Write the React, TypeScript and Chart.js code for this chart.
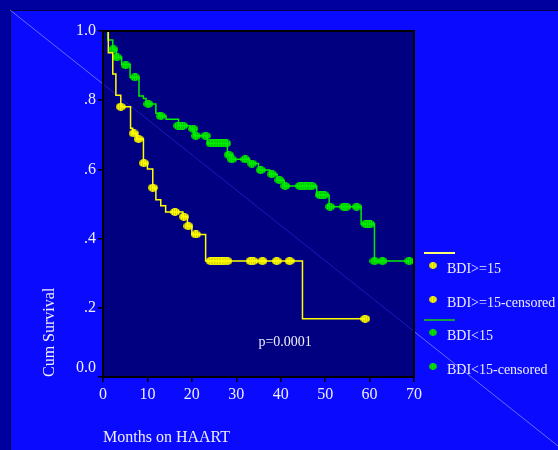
import React, { useEffect, useRef } from 'react';
import { Chart, registerables } from 'chart.js';

Chart.register(...registerables);

// ---- data ----
const yTickLabels = ['0.0', '.2', '.4', '.6', '.8', '1.0'];

// BDI>=15 Kaplan-Meier step curve (months, cumulative survival)
const highMonths = [0, 1.2, 2.2, 2.9, 4.0, 6.2, 6.7, 7.6, 9.1, 10.0, 11.2, 11.9, 13.0, 14.1, 18.0, 19.0, 20.0, 23.1, 44.9, 59.0];
const highSurvival = [1.0, 0.937, 0.876, 0.814, 0.781, 0.719, 0.704, 0.688, 0.618, 0.601, 0.547, 0.512, 0.495, 0.477, 0.463, 0.436, 0.412, 0.335, 0.168, 0.168];

// BDI>=15 censored observations
const highCensMonths = [4.0, 6.9, 8.0, 9.2, 11.2, 16.2, 18.2, 19.2, 20.9, 24.2, 24.8, 25.4, 26.0, 26.6, 27.2, 28.0, 33.2, 33.8, 35.9, 39.1, 42.0, 59.0];
const highCensSurvival = [0.781, 0.704, 0.688, 0.618, 0.547, 0.477, 0.463, 0.436, 0.412, 0.335, 0.335, 0.335, 0.335, 0.335, 0.335, 0.335, 0.335, 0.335, 0.335, 0.335, 0.335, 0.168];

// BDI<15 Kaplan-Meier step curve
const lowMonths = [0, 1.1, 2.2, 3.0, 4.2, 6.1, 8.1, 9.1, 9.7, 11.9, 12.8, 14.2, 17.0, 19.6, 20.5, 23.5, 28.0, 28.9, 33.0, 35.0, 37.5, 39.2, 40.8, 48.1, 50.9, 58.1, 61.1, 68.9];
const lowSurvival = [1.0, 0.974, 0.947, 0.924, 0.903, 0.866, 0.812, 0.805, 0.789, 0.762, 0.754, 0.745, 0.726, 0.717, 0.697, 0.675, 0.642, 0.629, 0.617, 0.598, 0.586, 0.569, 0.552, 0.526, 0.492, 0.442, 0.335, 0.335];

// BDI<15 censored observations
const lowCensMonths = [2.3, 3.1, 5.1, 7.2, 10.2, 13.0, 16.9, 17.4, 18.0, 20.3, 20.9, 23.1, 24.2, 24.8, 25.4, 26.0, 26.6, 27.1, 27.7, 28.3, 29.0, 32.0, 33.5, 35.5, 38.0, 39.7, 41.0, 44.3, 44.9, 45.5, 46.3, 47.0, 48.8, 49.3, 49.8, 51.1, 54.2, 54.8, 57.1, 59.1, 59.6, 60.1, 61.1, 62.9, 68.9];
const lowCensSurvival = [0.947, 0.924, 0.901, 0.866, 0.789, 0.754, 0.726, 0.726, 0.726, 0.717, 0.697, 0.697, 0.675, 0.675, 0.675, 0.675, 0.675, 0.675, 0.675, 0.642, 0.629, 0.629, 0.617, 0.598, 0.586, 0.569, 0.552, 0.552, 0.552, 0.552, 0.552, 0.552, 0.526, 0.526, 0.526, 0.492, 0.492, 0.492, 0.492, 0.442, 0.442, 0.442, 0.335, 0.335, 0.335];

const legendLabels = ['BDI>=15', 'BDI>=15-censored', 'BDI<15', 'BDI<15-censored'];
const pValueText = 'p=0.0001';
const xTitle = 'Months on HAART';
const yTitle = 'Cum Survival';

const SERIF = "'Liberation Serif', 'Times New Roman', serif";
const TEXT = '#eeeeff';
const YELLOW = '#ffff00';
const GREEN = '#00ee00';

const zip = (xs: number[], ys: number[]) => xs.map((x, i) => ({ x, y: ys[i] }));

function makeMarker(fill: string, stripe: string): HTMLCanvasElement {
  const c = document.createElement('canvas');
  c.width = 10;
  c.height = 8;
  const g = c.getContext('2d')!;
  g.beginPath();
  g.ellipse(5, 4, 4.9, 3.9, 0, 0, Math.PI * 2);
  g.fillStyle = fill;
  g.fill();
  g.save();
  g.clip();
  g.fillStyle = stripe;
  for (let x = 1; x < 10; x += 2) g.fillRect(x, 1, 1, 6);
  g.restore();
  return c;
}

const backgroundPlugin = {
  id: 'slideBackground',
  beforeDraw(chart: any) {
    const { ctx, width, height, chartArea } = chart;
    const { left, top, right, bottom } = chartArea;
    ctx.save();
    ctx.fillStyle = '#00009e';
    ctx.fillRect(0, 0, width, height);
    ctx.fillStyle = '#0a0aff';
    ctx.fillRect(10, 10, width - 10, height - 10);
    ctx.strokeStyle = '#000050';
    ctx.lineWidth = 1;
    ctx.beginPath();
    ctx.moveTo(10.5, height);
    ctx.lineTo(10.5, 10.5);
    ctx.lineTo(width, 10.5);
    ctx.stroke();
    // decorative diagonal
    ctx.strokeStyle = 'rgba(170,170,255,0.6)';
    ctx.beginPath();
    ctx.moveTo(10, 10);
    ctx.lineTo(563, 450);
    ctx.stroke();
    // plot area
    ctx.fillStyle = '#000080';
    ctx.fillRect(left, top, right - left, bottom - top);
    ctx.beginPath();
    ctx.rect(left, top, right - left, bottom - top);
    ctx.clip();
    ctx.strokeStyle = 'rgba(60,60,255,0.45)';
    ctx.beginPath();
    ctx.moveTo(10, 10);
    ctx.lineTo(563, 450);
    ctx.stroke();
    ctx.restore();
  },
  afterDraw(chart: any) {
    const { ctx, chartArea, scales } = chart;
    const { left, top, right, bottom } = chartArea;
    ctx.save();
    // plot frame
    ctx.strokeStyle = '#000000';
    ctx.lineWidth = 2;
    ctx.strokeRect(left, top, right - left, bottom - top);

    // p-value
    ctx.fillStyle = TEXT;
    ctx.font = `14px ${SERIF}`;
    ctx.textAlign = 'center';
    ctx.textBaseline = 'middle';
    ctx.fillText(pValueText, scales.x.getPixelForValue(41), scales.y.getPixelForValue(0.1));

    // legend
    const lx = right + 10;
    const markers = chart.$kmMarkers;
    const mk = [markers[0], markers[0], markers[1], markers[1]];
    const lineCols = ['#ffff70', '#10a040'];
    const rowY = [268, 302, 335, 369];
    const lineY = [253, 320];
    ctx.lineWidth = 2;
    for (let g = 0; g < 2; g++) {
      ctx.strokeStyle = lineCols[g];
      ctx.beginPath();
      ctx.moveTo(lx, lineY[g]);
      ctx.lineTo(lx + 31, lineY[g]);
      ctx.stroke();
    }
    ctx.textAlign = 'left';
    ctx.font = `14px ${SERIF}`;
    legendLabels.forEach((lab, i) => {
      ctx.drawImage(mk[i], lx + 5, rowY[i] - 6, 8, 7);
      ctx.fillStyle = TEXT;
      ctx.fillText(lab, lx + 23, rowY[i] + 1);
    });
    ctx.restore();
  },
};

export default function App() {
  const ref = useRef<HTMLCanvasElement | null>(null);
  useEffect(() => {
    if (!ref.current) return;
    const yellowMarker = makeMarker(YELLOW, 'rgba(150,140,0,0.45)');
    const greenMarker = makeMarker('#00f000', 'rgba(0,110,0,0.4)');
    const chart: any = new Chart(ref.current, {
      type: 'line',
      data: {
        datasets: [
          {
            label: legendLabels[0],
            data: zip(highMonths, highSurvival),
            stepped: 'before',
            borderColor: YELLOW,
            borderWidth: 1.5,
            pointRadius: 0,
            fill: false,
            clip: 4,
          },
          {
            label: legendLabels[1],
            data: zip(highCensMonths, highCensSurvival),
            showLine: false,
            pointRadius: 4,
            pointStyle: yellowMarker,
            clip: 6,
          },
          {
            label: legendLabels[2],
            data: zip(lowMonths, lowSurvival),
            stepped: 'before',
            borderColor: GREEN,
            borderWidth: 1.5,
            pointRadius: 0,
            fill: false,
            clip: 4,
          },
          {
            label: legendLabels[3],
            data: zip(lowCensMonths, lowCensSurvival),
            showLine: false,
            pointRadius: 4,
            pointStyle: greenMarker,
            clip: 6,
          },
        ],
      },
      options: {
        responsive: false,
        animation: false,
        devicePixelRatio: 1,
        layout: { padding: { top: 31, right: 144, left: 0, bottom: 0 } },
        plugins: { legend: { display: false }, tooltip: { enabled: false } },
        scales: {
          x: {
            type: 'linear',
            min: 0,
            max: 70,
            ticks: { stepSize: 10, color: TEXT, font: { family: SERIF, size: 16 }, padding: 3, maxRotation: 0 },
            grid: { drawOnChartArea: false, drawTicks: true, tickLength: 5, color: '#000000', lineWidth: 1.5 },
            border: { display: false },
            title: {
              display: true,
              text: xTitle,
              align: 'start',
              color: TEXT,
              font: { family: SERIF, size: 16 },
              padding: { top: 0, bottom: 3 },
            },
            afterFit(scale: any) {
              scale.height = 73;
            },
          },
          y: {
            type: 'linear',
            min: 0,
            max: 1,
            ticks: {
              stepSize: 0.2,
              color: TEXT,
              font: { family: SERIF, size: 16 },
              padding: 2,
              callback: (_v: any, i: number) => (i === 0 ? [yTickLabels[i], ''] : yTickLabels[i]),
            },
            grid: { drawOnChartArea: false, drawTicks: true, tickLength: 5, color: '#000000', lineWidth: 1.5 },
            border: { display: false },
            title: {
              display: true,
              text: yTitle,
              align: 'start',
              color: TEXT,
              font: { family: SERIF, size: 16 },
              padding: { top: 40, bottom: 0 },
            },
            afterFit(scale: any) {
              scale.width = 103;
            },
          },
        },
      },
      plugins: [
        {
          id: 'kmMarkers',
          beforeInit(c: any) {
            c.$kmMarkers = [yellowMarker, greenMarker];
          },
        },
        backgroundPlugin,
      ],
    } as any);
    return () => chart.destroy();
  }, []);
  return (
    <div style={{ position: 'fixed', left: 0, top: 0, width: 558, height: 450 }}>
      <canvas ref={ref} width={558} height={450} style={{ display: 'block', width: 558, height: 450 }} />
    </div>
  );
}
